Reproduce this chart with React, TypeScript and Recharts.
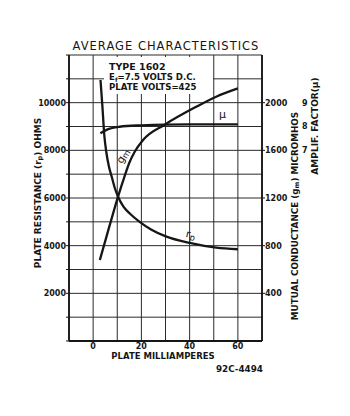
import React from 'react';
import { LineChart, Line, XAxis, YAxis, CartesianGrid, Customized } from 'recharts';

// Plate milliamperes (x) and curve values
const rpMa = [3.06, 3.81, 4.63, 5.46, 6.5, 7.74, 8.98, 10.34, 12.5, 15.2, 19.3, 24, 30.4, 40, 51, 60];
const rpOhms = [10950, 9900, 8640, 7930, 7340, 6880, 6420, 6055, 5650, 5350, 5000, 4680, 4380, 4120, 3920, 3850];

const gmMa = [2.8, 6.5, 10.3, 13, 15.1, 17.3, 20.7, 30, 42.8, 51, 60];
const gmMicromhos = [680, 945, 1210, 1380, 1500, 1590, 1687, 1819, 1966, 2050, 2120];

const muMa = [3, 6, 11, 20, 30, 45, 60];
const muFactor = [7.72, 7.88, 7.99, 8.05, 8.08, 8.09, 8.09];

const xTicks = [-10, 0, 10, 20, 30, 40, 50, 60, 70];
const rpTicks = [0, 1000, 2000, 3000, 4000, 5000, 6000, 7000, 8000, 9000, 10000, 11000, 12000];
const gmTicks = [400, 800, 1200, 1600, 2000];
const muTicks = [7, 8, 9];

const rpData = rpMa.map((x, i) => ({ x, v: rpOhms[i] }));
const gmData = gmMa.map((x, i) => ({ x, v: gmMicromhos[i] }));
const muData = muMa.map((x, i) => ({ x, v: muFactor[i] }));

const INK = '#161616';
const FONT = '"DejaVu Sans", Verdana, sans-serif';

const tickStyle = { fontSize: 8, fontWeight: 700, fill: INK, fontFamily: FONT };

const Texts = () => (
  <g fontFamily={FONT} fill={INK} fontWeight={700}>
    <rect x={104} y={57} width={109} height={37} fill="#fff" />
    <text x={166} y={50} textAnchor="middle" fontSize={11.5} fontWeight={400} letterSpacing={1}>
      AVERAGE CHARACTERISTICS
    </text>
    <text x={109} y={70} fontSize={9.5}>TYPE 1602</text>
    <text x={109} y={80} fontSize={8.6}>
      E<tspan fontSize={6} dy={1.5}>f</tspan>
      <tspan dy={-1.5}>=7.5 VOLTS D.C.</tspan>
    </text>
    <text x={109} y={90} fontSize={8.6}>PLATE VOLTS=425</text>
    <text x={38} y={193} fontSize={9} textAnchor="middle" transform="rotate(-90 38 193)" dominantBaseline="middle">
      PLATE RESISTANCE (r<tspan fontSize={6.5} dy={1.5}>p</tspan><tspan dy={-1.5}>) OHMS</tspan>
    </text>
    <text x={295} y={216} fontSize={8.8} textAnchor="middle" transform="rotate(-90 295 216)" dominantBaseline="middle">
      MUTUAL CONDUCTANCE (g<tspan fontSize={6.5} dy={1.5}>m</tspan><tspan dy={-1.5}>) MICROMHOS</tspan>
    </text>
    <text x={315} y={126} fontSize={9} textAnchor="middle" transform="rotate(-90 315 126)" dominantBaseline="middle">
      AMPLIF. FACTOR(μ)
    </text>
    <text x={163} y={359} fontSize={8.5} textAnchor="middle">PLATE MILLIAMPERES</text>
    <text x={263} y={372} fontSize={8.8} textAnchor="end">92C-4494</text>
    <text x={219} y={118} fontSize={11} fontWeight={400}>μ</text>
    <text x={126} y={158} fontSize={10.5} fontWeight={400} textAnchor="middle" transform="rotate(-58 126 158)">
      g<tspan fontSize={8.5} dy={1}>m</tspan>
    </text>
    <text x={190} y={238} fontSize={10.5} fontWeight={400} textAnchor="middle" transform="rotate(14 190 238)">
      r<tspan fontSize={8.5} dy={2}>p</tspan>
    </text>
  </g>
);

export default function App() {
  return (
    <div style={{ position: 'absolute', left: 0, top: 0, background: '#fff' }}>
      <LineChart width={350} height={416} margin={{ top: 55, right: 0, left: 0, bottom: 0 }}>
        <CartesianGrid yAxisId="rp" stroke="#2a2a2a" strokeWidth={1} />
        <XAxis
          type="number"
          dataKey="x"
          domain={[-10, 70]}
          ticks={xTicks}
          allowDataOverflow
          tickFormatter={(v: number) => (v >= 0 && v % 20 === 0 && v < 70 ? String(v) : '')}
          height={75}
          axisLine={{ stroke: INK, strokeWidth: 1.8 }}
          tickLine={false}
          tickSize={1}
          tickMargin={1}
          tick={tickStyle}
        />
        <YAxis
          yAxisId="rp"
          type="number"
          domain={[0, 12000]}
          ticks={rpTicks}
          width={69}
          tickFormatter={(v: number) => (v > 0 && v < 12000 && v % 2000 === 0 ? String(v) : '')}
          axisLine={{ stroke: INK, strokeWidth: 1.8 }}
          tickLine={{ stroke: INK }}
          tickSize={3}
          tickMargin={0}
          tick={tickStyle}
        />
        <YAxis
          yAxisId="gm"
          orientation="right"
          type="number"
          domain={[0, 2400]}
          ticks={gmTicks}
          width={34}
          axisLine={{ stroke: INK, strokeWidth: 1.8 }}
          tickLine={{ stroke: INK }}
          tickSize={3}
          tickMargin={0}
          tick={tickStyle}
        />
        <YAxis
          yAxisId="mu"
          orientation="right"
          type="number"
          domain={[-1, 11]}
          ticks={muTicks}
          width={54}
          axisLine={false}
          tickLine={false}
          tickSize={0}
          tickMargin={6}
          tick={tickStyle}
        />
        <Line yAxisId="rp" data={rpData} dataKey="v" type="monotone" stroke={INK} strokeWidth={2.3} dot={false} isAnimationActive={false} />
        <Line yAxisId="gm" data={gmData} dataKey="v" type="monotone" stroke={INK} strokeWidth={2.3} dot={false} isAnimationActive={false} />
        <Line yAxisId="mu" data={muData} dataKey="v" type="monotone" stroke={INK} strokeWidth={2.3} dot={false} isAnimationActive={false} />
        <Customized component={Texts} />
      </LineChart>
    </div>
  );
}
